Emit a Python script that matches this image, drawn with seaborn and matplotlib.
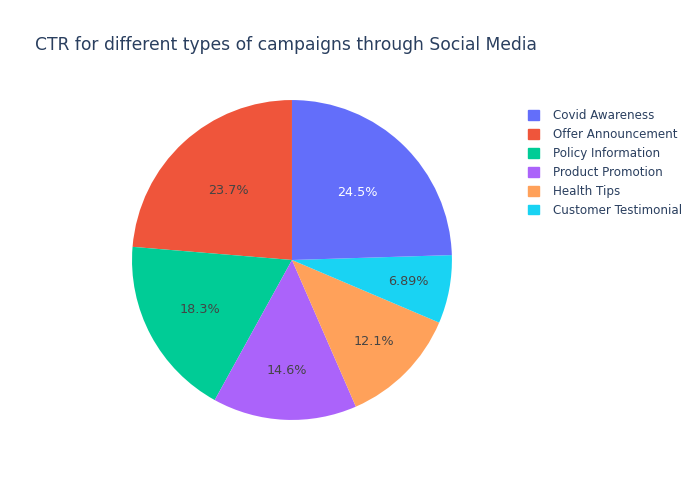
import matplotlib
matplotlib.use("Agg")
import numpy as np
import matplotlib.pyplot as plt
import matplotlib.patches as mpatches
import seaborn as sns

# campaign types in legend order (sorted by CTR share, descending)
campaigns = ["Covid Awareness", "Offer Announcement", "Policy Information",
             "Product Promotion", "Health Tips", "Customer Testimonial"]
ctr_share = [24.51, 23.69, 18.29, 14.56, 12.06, 6.89]
share_labels = ["24.5%", "23.7%", "18.3%", "14.6%", "12.1%", "6.89%"]
colors = ["#636efa", "#ef553b", "#00cc96", "#ab63fa", "#ffa15a", "#19d3f3"]
label_colors = ["white", "#444444", "#444444", "#444444", "#444444", "#444444"]
# narrow slices push their label further out, like plotly does
label_radius = [0.59, 0.59, 0.65, 0.69, 0.72, 0.74]

sns.set_style("white")
plt.rcParams["font.family"] = ["DejaVu Sans"]

fig = plt.figure(figsize=(7, 5), dpi=100)
ax = fig.add_axes([0.1886, 0.16, 0.457, 0.64])

# draw counterclockwise from 12 o'clock so the largest slice ends at the top
order = list(range(1, len(campaigns))) + [0]
wedges, texts, autotexts = ax.pie(
    [ctr_share[i] for i in order],
    colors=[colors[i] for i in order],
    labels=None,
    autopct=lambda p, it=iter([share_labels[i] for i in order]): next(it),
    pctdistance=0.6,
    startangle=90,
    counterclock=True,
    radius=1.0,
    wedgeprops={"linewidth": 0},
    textprops={"fontsize": 9.2},
)
for t, w, i in zip(autotexts, wedges, order):
    t.set_color(label_colors[i])
    mid = np.deg2rad((w.theta1 + w.theta2) / 2)
    t.set_position((label_radius[i] * np.cos(mid), label_radius[i] * np.sin(mid)))
ax.set_xlim(-1, 1)
ax.set_ylim(-1, 1)
ax.set_aspect("equal")

fig.text(35 / 700, 1 - 45 / 500, "CTR for different types of campaigns through Social Media",
         fontsize=12.3, color="#2a3f5f", va="center", ha="left")

handles = [mpatches.Patch(color=c, label=n) for c, n in zip(colors, campaigns)]
fig.legend(handles=handles, loc="upper left", bbox_to_anchor=(523 / 700, 1 - 104 / 500),
           frameon=False, fontsize=8.6, labelcolor="#2a3f5f",
           handlelength=0.9, handleheight=0.9, handletextpad=1.2,
           labelspacing=0.5, borderaxespad=0)

fig.savefig("out.png", dpi=100)
